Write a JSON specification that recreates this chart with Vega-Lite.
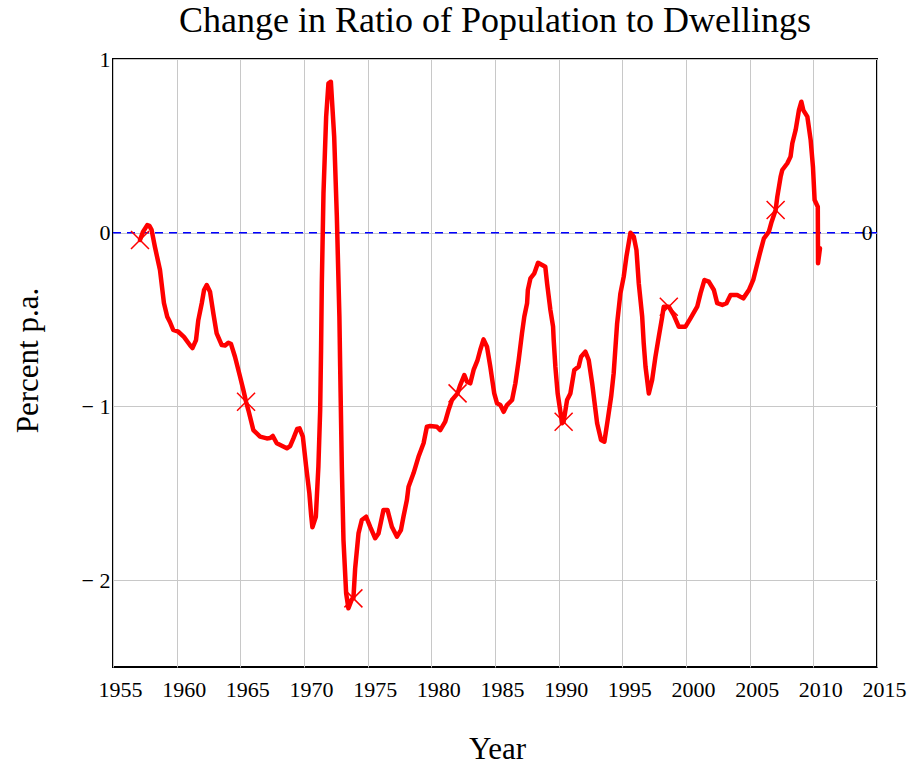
{
  "$schema": "https://vega.github.io/schema/vega-lite/v6.json",
  "autosize": {"type": "none"},
  "padding": {"left": 113, "top": 59, "right": 30, "bottom": 98},
  "width": 764,
  "height": 608,
  "background": "white",
  "config": {
    "view": {"stroke": "black", "strokeWidth": 2},
    "font": "Liberation Serif",
    "axis": {
      "grid": true, "gridColor": "#c8c8c8", "gridWidth": 1, "ticks": false, "domain": false,
      "labelFont": "Liberation Serif", "labelFontSize": 22, "labelColor": "black",
      "titleFont": "Liberation Serif", "titleFontSize": 31, "titleFontWeight": "normal", "titleColor": "black"
    }
  },
  "title": {
    "text": "Change in Ratio of Population to Dwellings",
    "font": "Liberation Serif", "fontSize": 36, "fontWeight": "normal", "color": "black",
    "anchor": "middle", "baseline": "bottom", "offset": -28
  },
  "datasets": {
    "series": [
      {"year": 1957.12, "value": -0.042}, {"year": 1957.35, "value": 0.004}, {"year": 1957.69, "value": 0.044},
      {"year": 1957.86, "value": 0.039}, {"year": 1958.03, "value": 0.016}, {"year": 1958.29, "value": -0.081},
      {"year": 1958.69, "value": -0.215}, {"year": 1959.0, "value": -0.405}, {"year": 1959.26, "value": -0.484},
      {"year": 1959.47, "value": -0.514}, {"year": 1959.73, "value": -0.56}, {"year": 1960.13, "value": -0.57},
      {"year": 1960.57, "value": -0.6}, {"year": 1961.05, "value": -0.648}, {"year": 1961.24, "value": -0.664},
      {"year": 1961.52, "value": -0.618}, {"year": 1961.7, "value": -0.503}, {"year": 1961.97, "value": -0.406},
      {"year": 1962.15, "value": -0.33}, {"year": 1962.36, "value": -0.301}, {"year": 1962.62, "value": -0.34},
      {"year": 1962.88, "value": -0.464}, {"year": 1963.14, "value": -0.579}, {"year": 1963.54, "value": -0.647},
      {"year": 1963.8, "value": -0.649}, {"year": 1964.06, "value": -0.633}, {"year": 1964.27, "value": -0.641},
      {"year": 1964.58, "value": -0.714}, {"year": 1964.98, "value": -0.829}, {"year": 1965.24, "value": -0.906},
      {"year": 1965.45, "value": -0.973}, {"year": 1965.63, "value": -1.021}, {"year": 1966.02, "value": -1.136},
      {"year": 1966.55, "value": -1.174}, {"year": 1967.08, "value": -1.184}, {"year": 1967.34, "value": -1.182},
      {"year": 1967.55, "value": -1.17}, {"year": 1967.86, "value": -1.212}, {"year": 1968.65, "value": -1.241},
      {"year": 1968.91, "value": -1.228}, {"year": 1969.17, "value": -1.184}, {"year": 1969.46, "value": -1.13},
      {"year": 1969.65, "value": -1.126}, {"year": 1969.91, "value": -1.174}, {"year": 1970.17, "value": -1.347},
      {"year": 1970.42, "value": -1.5}, {"year": 1970.56, "value": -1.625}, {"year": 1970.66, "value": -1.696},
      {"year": 1970.93, "value": -1.635}, {"year": 1971.13, "value": -1.347}, {"year": 1971.27, "value": -1.021},
      {"year": 1971.34, "value": -0.675}, {"year": 1971.4, "value": -0.291}, {"year": 1971.53, "value": 0.227},
      {"year": 1971.74, "value": 0.668}, {"year": 1971.92, "value": 0.86}, {"year": 1972.11, "value": 0.869},
      {"year": 1972.37, "value": 0.553}, {"year": 1972.58, "value": 0.092}, {"year": 1972.78, "value": -0.484},
      {"year": 1972.84, "value": -0.771}, {"year": 1972.97, "value": -1.347}, {"year": 1973.1, "value": -1.769},
      {"year": 1973.31, "value": -2.076}, {"year": 1973.49, "value": -2.162}, {"year": 1973.76, "value": -2.11},
      {"year": 1973.88, "value": -2.105}, {"year": 1974.02, "value": -1.93}, {"year": 1974.28, "value": -1.731},
      {"year": 1974.54, "value": -1.654}, {"year": 1974.88, "value": -1.635}, {"year": 1975.2, "value": -1.693},
      {"year": 1975.59, "value": -1.759}, {"year": 1975.85, "value": -1.731}, {"year": 1976.24, "value": -1.596},
      {"year": 1976.56, "value": -1.596}, {"year": 1976.9, "value": -1.693}, {"year": 1977.3, "value": -1.75},
      {"year": 1977.61, "value": -1.712}, {"year": 1977.81, "value": -1.635}, {"year": 1978.08, "value": -1.539},
      {"year": 1978.21, "value": -1.462}, {"year": 1978.6, "value": -1.385}, {"year": 1978.99, "value": -1.29},
      {"year": 1979.39, "value": -1.212}, {"year": 1979.65, "value": -1.117}, {"year": 1979.91, "value": -1.113},
      {"year": 1980.44, "value": -1.117}, {"year": 1980.7, "value": -1.136}, {"year": 1981.09, "value": -1.088},
      {"year": 1981.35, "value": -1.021}, {"year": 1981.62, "value": -0.963}, {"year": 1982.06, "value": -0.925},
      {"year": 1982.27, "value": -0.877}, {"year": 1982.59, "value": -0.819}, {"year": 1982.8, "value": -0.858},
      {"year": 1983.06, "value": -0.867}, {"year": 1983.32, "value": -0.79}, {"year": 1983.63, "value": -0.733},
      {"year": 1983.84, "value": -0.675}, {"year": 1984.1, "value": -0.614}, {"year": 1984.37, "value": -0.656},
      {"year": 1984.63, "value": -0.771}, {"year": 1984.94, "value": -0.925}, {"year": 1985.16, "value": -0.982},
      {"year": 1985.42, "value": -0.992}, {"year": 1985.68, "value": -1.031}, {"year": 1985.94, "value": -0.992},
      {"year": 1986.34, "value": -0.963}, {"year": 1986.6, "value": -0.867}, {"year": 1986.86, "value": -0.733},
      {"year": 1987.12, "value": -0.579}, {"year": 1987.3, "value": -0.484}, {"year": 1987.52, "value": -0.406},
      {"year": 1987.58, "value": -0.33}, {"year": 1987.78, "value": -0.263}, {"year": 1988.09, "value": -0.234},
      {"year": 1988.38, "value": -0.173}, {"year": 1988.7, "value": -0.186}, {"year": 1988.95, "value": -0.196},
      {"year": 1989.09, "value": -0.291}, {"year": 1989.35, "value": -0.445}, {"year": 1989.56, "value": -0.541},
      {"year": 1989.61, "value": -0.618}, {"year": 1989.74, "value": -0.771}, {"year": 1989.92, "value": -0.925},
      {"year": 1990.27, "value": -1.097}, {"year": 1990.39, "value": -1.088}, {"year": 1990.66, "value": -0.963},
      {"year": 1990.92, "value": -0.925}, {"year": 1991.23, "value": -0.79}, {"year": 1991.57, "value": -0.771},
      {"year": 1991.76, "value": -0.714}, {"year": 1992.1, "value": -0.685}, {"year": 1992.36, "value": -0.733},
      {"year": 1992.63, "value": -0.867}, {"year": 1993.02, "value": -1.097}, {"year": 1993.33, "value": -1.193},
      {"year": 1993.59, "value": -1.203}, {"year": 1993.85, "value": -1.078}, {"year": 1994.12, "value": -0.944},
      {"year": 1994.32, "value": -0.809}, {"year": 1994.59, "value": -0.522}, {"year": 1994.85, "value": -0.349},
      {"year": 1995.11, "value": -0.253}, {"year": 1995.32, "value": -0.138}, {"year": 1995.64, "value": 0.0},
      {"year": 1995.9, "value": -0.023}, {"year": 1996.11, "value": -0.1}, {"year": 1996.29, "value": -0.291},
      {"year": 1996.56, "value": -0.484}, {"year": 1996.68, "value": -0.637}, {"year": 1996.82, "value": -0.771},
      {"year": 1997.08, "value": -0.925}, {"year": 1997.34, "value": -0.848}, {"year": 1997.6, "value": -0.714},
      {"year": 1997.86, "value": -0.599}, {"year": 1998.13, "value": -0.484}, {"year": 1998.25, "value": -0.426},
      {"year": 1998.65, "value": -0.426}, {"year": 1999.04, "value": -0.474}, {"year": 1999.43, "value": -0.541},
      {"year": 1999.96, "value": -0.541}, {"year": 2000.35, "value": -0.493}, {"year": 2000.88, "value": -0.426},
      {"year": 2001.14, "value": -0.349}, {"year": 2001.45, "value": -0.272}, {"year": 2001.79, "value": -0.282},
      {"year": 2002.19, "value": -0.33}, {"year": 2002.45, "value": -0.406}, {"year": 2002.85, "value": -0.416},
      {"year": 2003.18, "value": -0.406}, {"year": 2003.5, "value": -0.359}, {"year": 2004.02, "value": -0.359},
      {"year": 2004.5, "value": -0.378}, {"year": 2004.94, "value": -0.33}, {"year": 2005.28, "value": -0.272},
      {"year": 2005.54, "value": -0.196}, {"year": 2005.8, "value": -0.119}, {"year": 2006.12, "value": -0.032},
      {"year": 2006.51, "value": 0.006}, {"year": 2006.72, "value": 0.062}, {"year": 2007.04, "value": 0.131},
      {"year": 2007.17, "value": 0.207}, {"year": 2007.43, "value": 0.322}, {"year": 2007.56, "value": 0.361},
      {"year": 2007.96, "value": 0.4}, {"year": 2008.21, "value": 0.438}, {"year": 2008.35, "value": 0.515},
      {"year": 2008.61, "value": 0.591}, {"year": 2008.87, "value": 0.706}, {"year": 2009.06, "value": 0.754},
      {"year": 2009.21, "value": 0.706}, {"year": 2009.53, "value": 0.668}, {"year": 2009.79, "value": 0.534},
      {"year": 2009.97, "value": 0.38}, {"year": 2010.1, "value": 0.188}, {"year": 2010.35, "value": 0.15},
      {"year": 2010.37, "value": -0.176}, {"year": 2010.52, "value": -0.09}
    ],
    "markers": [
      {"year": 1957.12, "value": -0.042}, {"year": 1965.45, "value": -0.973}, {"year": 1973.88, "value": -2.105},
      {"year": 1982.06, "value": -0.925}, {"year": 1990.39, "value": -1.088}, {"year": 1998.65, "value": -0.426},
      {"year": 2007.04, "value": 0.131}
    ],
    "zero": [{"year": 2014.24, "value": 0, "label": "0"}]
  },
  "encoding": {
    "x": {
      "field": "year", "type": "quantitative",
      "scale": {"domain": [1955, 2015], "nice": false, "zero": false},
      "axis": {
        "values": [1955, 1960, 1965, 1970, 1975, 1980, 1985, 1990, 1995, 2000, 2005, 2010, 2015],
        "format": "d", "labelPadding": 12, "labelFlush": false, "labelOffset": 7,
        "title": "Year", "titleX": 384, "titleY": 91, "titleBaseline": "alphabetic", "titleAlign": "center"
      }
    },
    "y": {
      "field": "value", "type": "quantitative",
      "scale": {"domain": [-2.5, 1], "nice": false, "zero": false},
      "axis": {
        "values": [-2, -1, 0, 1],
        "labelExpr": "datum.value < 0 ? '− ' + abs(datum.value) : datum.label",
        "labelPadding": 3, "labelFlush": false,
        "title": "Percent p.a.", "titleX": -85, "titleY": 301, "titleBaseline": "middle", "titleAlign": "center", "titleAngle": -90
      }
    }
  },
  "layer": [
    {
      "data": {"name": "zero"},
      "mark": {"type": "rule", "color": "#0000ff", "strokeWidth": 1.5, "strokeDash": [8, 6]},
      "encoding": {"x": null, "y": {"field": "value", "type": "quantitative"}}
    },
    {
      "data": {"name": "series"},
      "mark": {"type": "line", "color": "#ff0000", "strokeWidth": 4.5, "strokeJoin": "round", "strokeCap": "round"}
    },
    {
      "data": {"name": "markers"},
      "mark": {"type": "point", "shape": "M-1,-1L1,1M-1,1L1,-1", "filled": false, "stroke": "#ff0000", "strokeWidth": 1.5, "size": 324, "opacity": 1}
    },
    {
      "data": {"name": "zero"},
      "mark": {"type": "text", "font": "Liberation Serif", "fontSize": 22, "color": "black", "align": "center", "baseline": "middle"},
      "encoding": {"text": {"field": "label"}}
    }
  ]
}
